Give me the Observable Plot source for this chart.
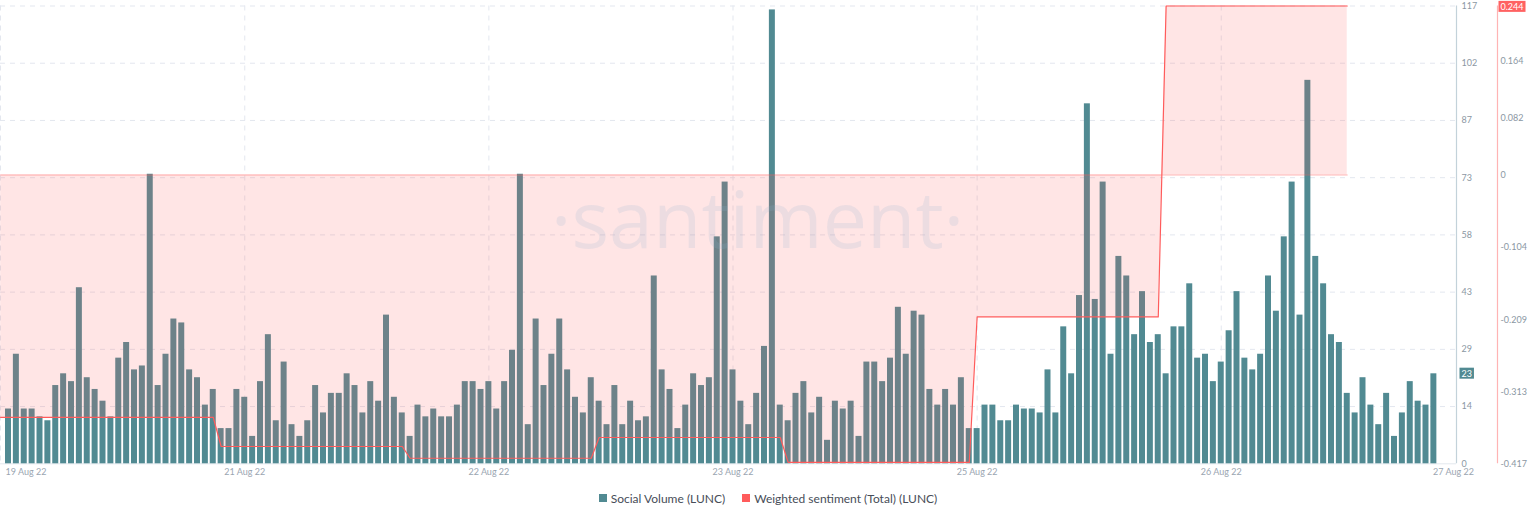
<!DOCTYPE html>
<html><head><meta charset="utf-8">
<script src="https://cdn.jsdelivr.net/npm/d3@7"></script>
<script src="https://cdn.jsdelivr.net/npm/@observablehq/plot@0.6"></script>
<style>
body{margin:0;background:#fff;font-family:Lato,"Open Sans",sans-serif;}
#chart svg{display:block}
#legend{display:flex;justify-content:center;gap:17px;font-size:12px;color:#474d58;height:40px;align-items:center;margin-top:-2px}
.item{display:flex;align-items:center;gap:4px}
.sw{width:8px;height:8px;display:inline-block}
</style></head><body>
<div id="chart"></div><div id="legend"></div>
<script>
// ---- data ----
const startHour = "2022-08-19T21:00:00Z"; // first hourly bar
const socialVolume = [
14,28,14,14,12,11,20,23,21,45,22,19,16,12,27,31,24,25,74,20,28,37,36,24,22,15,
19,9,9,19,17,7,21,33,11,26,10,7,11,20,13,18,18,23,20,13,21,16,38,17,13,7,
15,12,14,12,12,15,21,21,19,21,14,21,29,74,10,37,20,28,37,24,17,13,22,16,10,20,
10,16,11,12,48,24,19,9,15,23,20,22,58,72,24,16,10,18,30,116,15,11,18,21,13,17,
6,16,14,16,7,26,26,21,27,40,28,39,38,19,15,19,15,22,9,9,15,15,11,11,15,14,
14,13,24,13,35,23,43,92,42,72,28,53,48,33,44,31,33,23,35,35,46,27,28,21,26,34,
44,27,24,28,48,39,58,72,38,98,53,46,33,31,18,13,22,15,10,18,7,13,21,16,15,23];
const sentimentDays = ["2022-08-19","2022-08-20","2022-08-21","2022-08-22","2022-08-23","2022-08-24","2022-08-25","2022-08-26"];
const sentimentValues = [-0.350,-0.350,-0.392,-0.409,-0.379,-0.415,-0.205,0.244];
const volumeTicks = [0,14.625,29.25,43.875,58.5,73.125,87.75,102.375,117];
const volumeTickLabels = ["0","14","29","43","58","73","87","102","117"];
const sentimentTicks = [-0.417,-0.313,-0.209,-0.104,0,0.082,0.164];
const sentimentTickLabels = ["-0.417","-0.313","-0.209","-0.104","0","0.082","0.164"];
const sentimentRange = [-0.417,0.244];
const xTickDates = ["2022-08-21T03:00:00Z","2022-08-22T10:00:00Z","2022-08-23T17:00:00Z","2022-08-25T00:00:00Z","2022-08-26T07:00:00Z"];
const xTickLabels = ["21 Aug 22","22 Aug 22","23 Aug 22","25 Aug 22","26 Aug 22"];
const xEdgeLabels = ["19 Aug 22","27 Aug 22"];
const volumeLast = "23", sentimentLast = "0.244";

// ---- build tables ----
const H = 3600e3;
const t0 = new Date(startHour).getTime();
const vol = socialVolume.map((v,k)=>({t:new Date(t0+k*H), v}));
const dayVal = new Map(sentimentDays.map((d,i)=>[d,sentimentValues[i]]));
const sent = d3.utcHours(new Date(t0-H), d3.utcDay.offset(new Date(sentimentDays[sentimentDays.length-1]+"T00:00:00Z"),1))
  .map(t=>({t, s: dayVal.get(d3.utcFormat("%Y-%m-%d")(t))}));
const sv = d3.scaleLinear(sentimentRange,[0,117]);
const xStart = new Date(t0-1.016*H), xEnd = new Date(t0+183.873*H);

const TEAL="#518a92", RED="#ff5b5b", GRID="#e3e7ef";
const chart = Plot.plot({
  width:1536, height:480,
  marginLeft:0, marginRight:80, marginTop:5.5, marginBottom:16.7,
  style:{fontFamily:"Lato, 'Open Sans', sans-serif", background:"#fff"},
  x:{type:"utc", domain:[xStart,xEnd], axis:null},
  y:{domain:[0,117], axis:null},
  marks:[
    Plot.ruleY(volumeTicks.slice(1), {stroke:GRID, strokeDasharray:"5,5"}),
    Plot.ruleX([xStart, ...xTickDates.map(d=>new Date(d))], {stroke:GRID, strokeDasharray:"5,5"}),
    Plot.ruleY([0], {stroke:"#e3e8ee"}),
    Plot.rectY(vol, {x1:d=>new Date(+d.t-0.38*H), x2:d=>new Date(+d.t+0.38*H), y:"v", fill:TEAL}),
    Plot.areaY(sent, {x:"t", y1:()=>sv(0), y2:d=>sv(d.s), fill:RED, fillOpacity:0.16}),
    Plot.lineY(sent, {x:"t", y:()=>sv(0), stroke:RED, strokeOpacity:0.45, strokeWidth:1}),
    Plot.lineY(sent, {x:"t", y:d=>sv(d.s), stroke:RED, strokeWidth:1.2}),
    Plot.text(["·santiment·"], {frameAnchor:"middle", dx:29, dy:-12, fontSize:79, fontWeight:400, fill:"#8fb0d0", fillOpacity:0.17, fontFamily:"'Open Sans', sans-serif"}),
    // volume axis
    Plot.ruleX([xEnd], {stroke:"#c3d2da", strokeWidth:1.2}),
    Plot.text(volumeTicks, {x:xEnd, y:d=>d, text:(d,i)=>volumeTickLabels[i], dx:5, textAnchor:"start", fill:"#8b97a3", fontSize:9}),
    // sentiment axis
    Plot.ruleX([xEnd], {dx:41, stroke:"#ffb4b4", strokeWidth:1.2}),
    Plot.text(sentimentTicks, {x:xEnd, y:d=>sv(d), text:(d,i)=>sentimentTickLabels[i], dx:44, textAnchor:"start", fill:"#8b97a3", fontSize:9}),
    // badges (latest values)
    Plot.text([+volumeLast], {x:xEnd, y:d=>d, text:()=>volumeLast, dx:5, textAnchor:"start", fill:"#ffffff", fontSize:9}),
    Plot.text([+sentimentLast], {x:xEnd, y:d=>sv(d), text:()=>sentimentLast, dx:44, dy:1, textAnchor:"start", fill:"#ffffff", fontSize:9}),
    // x labels
    Plot.text(xTickDates.map(d=>new Date(d)), {x:d=>d, y:0, text:(d,i)=>xTickLabels[i], dy:8, lineAnchor:"middle", fill:"#9aa5b1", fontSize:9}),
    Plot.text([xStart], {x:d=>d, y:0, text:()=>xEdgeLabels[0], dx:5, dy:8, textAnchor:"start", lineAnchor:"middle", fill:"#9aa5b1", fontSize:9}),
    Plot.text([xEnd], {x:d=>d, y:0, text:()=>xEdgeLabels[1], dx:-3, dy:8, lineAnchor:"middle", fill:"#9aa5b1", fontSize:9}),
  ]
});
document.getElementById("chart").appendChild(chart);
// badge backgrounds from measured text
const ns="http://www.w3.org/2000/svg";
const badgeCols = {[volumeLast]:TEAL, [sentimentLast]:"#ff6262"};
Array.from(chart.querySelectorAll("text")).forEach(t=>{
  const txt=t.textContent.trim();
  const g=t.parentNode;
  if(!(txt in badgeCols)) return;
  if(!(g.getAttribute("fill")||"").toLowerCase().includes("fff") && t.getAttribute("fill")!=="#ffffff") return;
  const b=t.getBBox();
  const r=document.createElementNS(ns,"rect");
  r.setAttribute("x",b.x-2); r.setAttribute("y",b.y); r.setAttribute("width",b.width+4); r.setAttribute("height",b.height);
  r.setAttribute("fill",badgeCols[txt]);
  if(t.getAttribute("transform")) r.setAttribute("transform",t.getAttribute("transform"));
  g.insertBefore(r,t);
});
// legend
const legend=d3.select("#legend");
[["Social Volume (LUNC)",TEAL],["Weighted sentiment (Total) (LUNC)",RED]].forEach(([n,c])=>{
  const it=legend.append("div").attr("class","item");
  it.append("span").attr("class","sw").style("background",c);
  it.append("span").text(n);
});
</script>
</body></html>
